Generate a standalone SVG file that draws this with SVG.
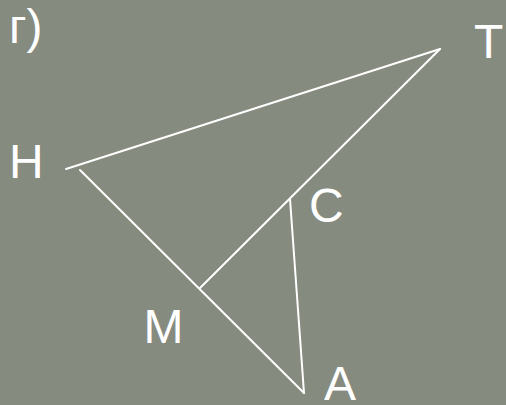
<svg xmlns="http://www.w3.org/2000/svg" width="506" height="405" viewBox="0 0 506 405">
<style>
.ln{stroke:#ffffff;stroke-width:2;fill:none;stroke-linecap:round}
.lb{font-family:"Liberation Sans",Arial,sans-serif;font-size:48px;fill:#ffffff}
</style>
<rect width="506" height="405" fill="#868b80"/>
<g id="connectors">
<line class="ln" x1="66" y1="169" x2="440" y2="49"/>
<line class="ln" x1="440" y1="49" x2="200" y2="288"/>
<line class="ln" x1="80" y1="170" x2="304" y2="393"/>
<line class="ln" x1="290" y1="199" x2="304" y2="393"/>
</g>
<g id="title"><text class="lb" x="9" y="43">г)</text></g>
<g id="T"><text class="lb" x="474" y="57.5">T</text></g>
<g id="H"><text class="lb" x="9" y="177.5">H</text></g>
<g id="C"><text class="lb" x="309" y="222">C</text></g>
<g id="M"><text class="lb" x="143.5" y="342.5">M</text></g>
<g id="A"><text class="lb" x="324" y="400">A</text></g>
</svg>
